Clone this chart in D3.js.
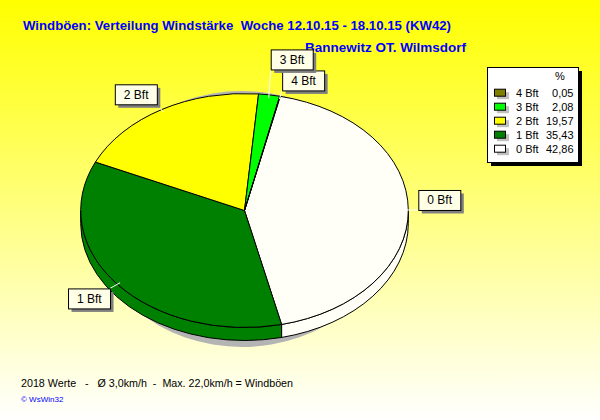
<!DOCTYPE html>
<html><head><meta charset="utf-8">
<script src="https://cdn.jsdelivr.net/npm/d3@7"></script>
<style>html,body{margin:0;padding:0;overflow:hidden;} text{font-family:"Liberation Sans",Arial,sans-serif;}</style>
</head><body>
<svg id="c" width="600" height="420"></svg>
<script>
// ---- data ----
const categories = ["0 Bft", "1 Bft", "2 Bft", "3 Bft", "4 Bft"];
const percentages = [42.86, 35.43, 19.57, 2.08, 0.05];
const percentLabels = ["42,86", "35,43", "19,57", "2,08", "0,05"];
const sliceColors = ["#fffff8", "#008000", "#ffff00", "#00ff00", "#808000"];
const legendColors = ["#ffffff", "#008000", "#ffff00", "#00ff00", "#808000"];
const titleText = "Windböen: Verteilung Windstärke  Woche 12.10.15 - 18.10.15 (KW42)";
const subtitleText = "Bannewitz OT. Wilmsdorf";
const footerText = "2018 Werte   -   Ø 3,0km/h  -  Max. 22,0km/h = Windböen";
const creditText = "© WsWin32";

// ---- layout ----
const W = 600, H = 420;
const cx = 244.5, cy = 210.5, rx = 163.8, ry = 117, depth = 13;
const startDeg = 12.6;
const svg = d3.select("#c");
const defs = svg.append("defs");
const grad = defs.append("linearGradient").attr("id", "bg").attr("x1", 0).attr("y1", 0).attr("x2", 0).attr("y2", 1);
grad.append("stop").attr("offset", 0).attr("stop-color", "#ffff00");
grad.append("stop").attr("offset", 1).attr("stop-color", "#ffffff");
svg.append("rect").attr("width", W).attr("height", H).attr("fill", "url(#bg)");

// title
svg.append("text").attr("x", 23).attr("y", 30).attr("fill", "#0000ff")
  .attr("font-size", 13).attr("font-weight", "bold").style("white-space", "pre")
  .attr("textLength", 428).attr("lengthAdjust", "spacingAndGlyphs").text(titleText);
svg.append("text").attr("x", 305).attr("y", 52).attr("fill", "#0000ff")
  .attr("font-size", 13).attr("font-weight", "bold")
  .attr("textLength", 161).attr("lengthAdjust", "spacingAndGlyphs").text(subtitleText);

// pie
const s0 = startDeg * Math.PI / 180;
const pie = d3.pie().sort(null).startAngle(s0).endAngle(s0 + 2 * Math.PI);
const arcs = pie(percentages);
const pt = (a, dx = 0, dy = 0, kx = rx, ky = ry) => [cx + dx + kx * Math.sin(a), cy + dy - ky * Math.cos(a)];

// shadow
svg.append("ellipse").attr("cx", cx - 2.5).attr("cy", cy + 8.5).attr("rx", 150).attr("ry", 128).attr("fill", "#b4b4b4");

// sides
const g = svg.append("g");
function sidePath(b0, b1) {
  const p0 = pt(b0), p1 = pt(b1);
  const large = (b1 - b0) > Math.PI ? 1 : 0;
  return `M${p0}A${rx},${ry} 0 ${large} 1 ${p1}L${p1[0]},${p1[1] + depth}A${rx},${ry} 0 ${large} 0 ${p0[0]},${p0[1] + depth}Z`;
}
arcs.forEach((d, i) => {
  [0, 2 * Math.PI].forEach(off => {
    const lo = Math.PI / 2 + off, hi = 3 * Math.PI / 2 + off;
    const b0 = Math.max(d.startAngle, lo), b1 = Math.min(d.endAngle, hi);
    if (b1 > b0) {
      g.append("path").attr("d", sidePath(b0, b1)).attr("fill", sliceColors[i])
        .attr("stroke", "#000").attr("stroke-width", 1).attr("stroke-linejoin", "round");
    }
  });
});
// top faces
arcs.forEach((d, i) => {
  const p0 = pt(d.startAngle), p1 = pt(d.endAngle);
  const large = (d.endAngle - d.startAngle) > Math.PI ? 1 : 0;
  g.append("path").attr("d", `M${cx},${cy}L${p0}A${rx},${ry} 0 ${large} 1 ${p1}Z`)
    .attr("fill", sliceColors[i]).attr("stroke", "#000").attr("stroke-width", 1).attr("stroke-linejoin", "round");
});

// labels
const placed = [];
const labelG = svg.append("g");
const boxH = 20, boxW = 42;
const order = d3.range(categories.length).reverse();
const labels = [];
order.forEach(i => {
  const d = arcs[i];
  const m = (d.startAngle + d.endAngle) / 2;
  const [ax, ay0] = pt(m, 0, 0, rx + 10, ry + 6);
  const right = Math.sin(m) > 0, top = Math.cos(m) > 0;
  let ay = ay0;
  let bx = right ? ax : ax - boxW;
  let by = top ? ay - boxH : ay;
  let moved = true;
  while (moved) {
    moved = false;
    for (const p of placed) {
      if (bx < p.x + p.w && bx + boxW > p.x && by < p.y + p.h && by + boxH > p.y) {
        if (top) { by = p.y - boxH - 1; } else { by = p.y + p.h + 1; }
        ay = top ? by + boxH : by;
        moved = true;
      }
    }
  }
  placed.push({ x: bx, y: by, w: boxW, h: boxH });
  const s = pt(m, 0, 0, rx - 3, ry - 3);
  labels.push({ i, bx, by, ax, ay, s });
});
labels.forEach(L => {
  labelG.append("line").attr("x1", L.s[0]).attr("y1", L.s[1]).attr("x2", L.ax).attr("y2", L.ay)
    .attr("stroke", "#ffffff").attr("stroke-width", 1);
});
labels.forEach(L => {
  labelG.append("rect").attr("x", L.bx + 3.5).attr("y", L.by + 3.5).attr("width", boxW).attr("height", boxH).attr("fill", "#808080");
  labelG.append("rect").attr("x", L.bx + 0.5).attr("y", L.by + 0.5).attr("width", boxW).attr("height", boxH)
    .attr("fill", "#ffffe8").attr("stroke", "#000").attr("stroke-width", 1);
  labelG.append("text").attr("x", L.bx + 9).attr("y", L.by + 14.5).attr("font-size", 12).attr("fill", "#000").text(categories[L.i]);
});

// legend
const lg = svg.append("g");
const lx = 487, ly = 67, lw = 91, lh = 95;
lg.append("rect").attr("x", lx + 4).attr("y", ly + 4).attr("width", lw).attr("height", lh).attr("fill", "#000");
lg.append("rect").attr("x", lx + 0.5).attr("y", ly + 0.5).attr("width", lw).attr("height", lh).attr("fill", "#ffffff").attr("stroke", "#000");
lg.append("text").attr("x", 560).attr("y", 80).attr("text-anchor", "middle").attr("font-size", 11).text("%");
const rowY = d3.scaleLinear().domain([4, 0]).range([96.7, 152.7]);
d3.range(categories.length).forEach(i => {
  const y = rowY(i);
  lg.append("rect").attr("x", 497).attr("y", y - 4.5).attr("width", 12).attr("height", 7).attr("fill", "#c0c0c0");
  lg.append("rect").attr("x", 494.5).attr("y", y - 7.5).attr("width", 11).attr("height", 7)
    .attr("fill", legendColors[i]).attr("stroke", "#000");
  lg.append("text").attr("x", 516).attr("y", y).attr("font-size", 11).text(categories[i]);
  lg.append("text").attr("x", 573.5).attr("y", y).attr("font-size", 11).attr("text-anchor", "end").text(percentLabels[i]);
});

// footer
svg.append("text").attr("x", 21).attr("y", 387).attr("font-size", 11).style("white-space", "pre")
  .attr("textLength", 272).attr("lengthAdjust", "spacingAndGlyphs").attr("fill", "#000").text(footerText);
svg.append("text").attr("x", 21).attr("y", 402).attr("font-size", 8).attr("fill", "#0000ff").text(creditText);
</script>
</body></html>
